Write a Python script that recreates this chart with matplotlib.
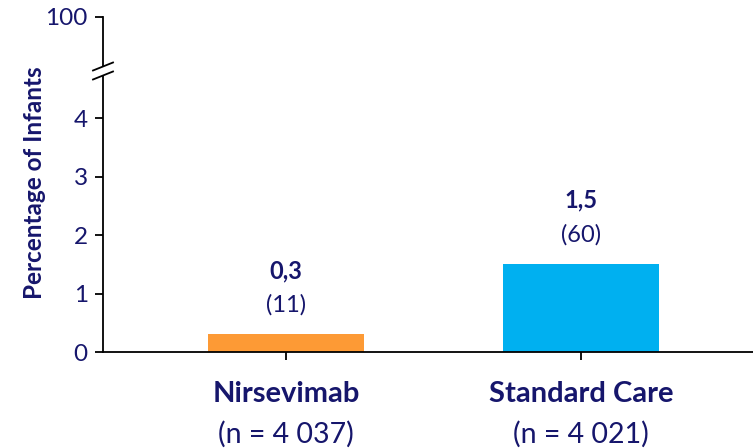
import numpy as np
import matplotlib
matplotlib.use("Agg")
import matplotlib.pyplot as plt
from matplotlib.transforms import blended_transform_factory
from matplotlib.patches import Polygon

plt.rcParams['font.family'] = ['Lato', 'DejaVu Sans']

# Data
groups = ["Nirsevimab", "Standard Care"]
group_n = ["(n = 4 037)", "(n = 4 021)"]
percentages = [0.3, 1.5]
counts = [11, 60]
pct_labels = ["0,3", "1,5"]
ytick_values = [0, 1, 2, 3, 4, 100]

bar_colors = ["#FD9A35", "#00B0F0"]
navy = "#16166C"

# Broken y scale: linear up to the break, then compressed up to 100
BREAK = 4.8
TOP_POS = 5.73
k = (TOP_POS - BREAK) / (100 - BREAK)


def fwd(y):
    y = np.asarray(y, dtype=float)
    return np.where(y <= BREAK, y, BREAK + (y - BREAK) * k)


def inv(y):
    y = np.asarray(y, dtype=float)
    return np.where(y <= BREAK, y, BREAK + (y - BREAK) / k)


W, H = 753, 448
fig = plt.figure(figsize=(W / 100, H / 100), dpi=100)
ax_w, ax_h = 650, 335
ax = fig.add_axes([103 / W, 96 / H, ax_w / W, ax_h / H])
ax.set_yscale('function', functions=(fwd, inv))

x = np.arange(len(groups))
ax.bar(x, percentages, width=0.53, color=bar_colors, zorder=2)

ax.set_xlim(-0.62, 1.583)
ax.set_ylim(0, 100)
ax.set_yticks(ytick_values)
ax.set_yticklabels([str(v) for v in ytick_values])
ax.tick_params(axis='y', direction='out', length=6, width=1.3, colors='black',
               labelcolor=navy, labelsize=17.5, pad=5)
ax.set_xticks(x)
ax.set_xticklabels([])
ax.tick_params(axis='x', direction='out', length=6, width=1.3, colors='black')

for side in ['top', 'right']:
    ax.spines[side].set_visible(False)
for side in ['left', 'bottom']:
    ax.spines[side].set_linewidth(1.3)
    ax.spines[side].set_color('black')

# Value labels above the bars
for xi, p, lab, c in zip(x, percentages, pct_labels, counts):
    ax.annotate(lab, (xi, p), xytext=(0, 46), textcoords='offset points',
                ha='center', va='center', fontsize=17, fontweight='bold', color=navy)
    ax.annotate(f"({c})", (xi, p), xytext=(0, 21.5), textcoords='offset points',
                ha='center', va='center', fontsize=17, color=navy)

# Category labels below the axis
trans = blended_transform_factory(ax.transData, ax.transAxes)
for xi, g, n in zip(x, groups, group_n):
    ax.annotate(g, (xi, 0), xycoords=trans, xytext=(0, -30.5), textcoords='offset points',
                ha='center', va='center', fontsize=21, fontweight='bold', color=navy)
    ax.annotate(n, (xi, 0), xycoords=trans, xytext=(0, -59), textcoords='offset points',
                ha='center', va='center', fontsize=20.5, color=navy)

ax.set_ylabel("Percentage of Infants", fontsize=17.5, fontweight='bold', color=navy)
ax.yaxis.set_label_coords(-57 / ax_w, (352 - 183) / ax_h)

# Axis break marks: a white gap in the spine between two slashes
cy = (352 - 71) / ax_h
gap = 4.5 / ax_h
x0, x1 = -10 / ax_w, 10 / ax_w
rise = 4 / ax_h
gap_patch = Polygon([[x0, cy - gap - rise], [x1, cy - gap + rise],
                     [x1, cy + gap + rise], [x0, cy + gap - rise]],
                    closed=True, transform=ax.transAxes, facecolor='white',
                    edgecolor='none', clip_on=False, zorder=4)
ax.add_patch(gap_patch)
for s in (-1, 1):
    ax.plot([x0, x1], [cy + s * gap - rise, cy + s * gap + rise],
            transform=ax.transAxes, color='black', lw=1.3,
            clip_on=False, zorder=5)

fig.savefig("out.png", dpi=100)
